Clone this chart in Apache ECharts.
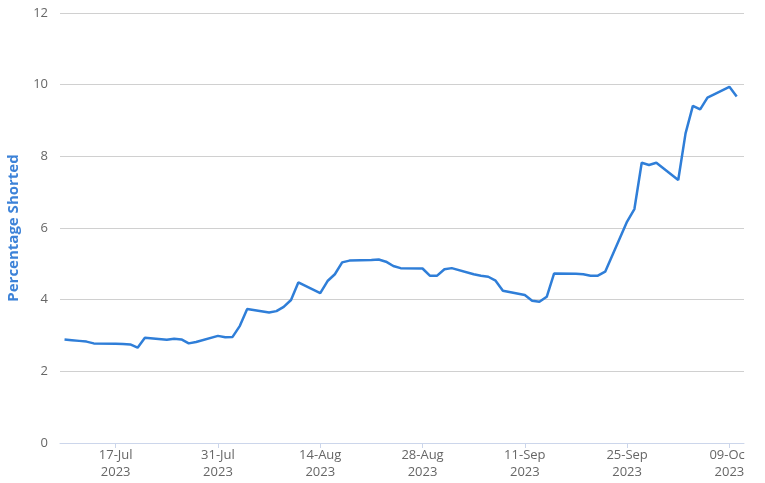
<!DOCTYPE html>
<html>
<head>
<meta charset="utf-8">
<script src="https://cdn.jsdelivr.net/npm/echarts@6/dist/echarts.min.js"></script>
<style>
html,body{margin:0;padding:0;background:#fff;overflow:hidden;}
#chart{width:745px;height:483px;}
</style>
</head>
<body>
<div id="chart"></div>
<script>
// Trading dates and percentage shorted values
const dates = [
  '2023-07-10','2023-07-11','2023-07-12','2023-07-13','2023-07-14',
  '2023-07-17','2023-07-18','2023-07-19','2023-07-20','2023-07-21',
  '2023-07-24','2023-07-25','2023-07-26','2023-07-27','2023-07-28',
  '2023-07-31','2023-08-01','2023-08-02','2023-08-03','2023-08-04',
  '2023-08-07','2023-08-08','2023-08-09','2023-08-10','2023-08-11',
  '2023-08-14','2023-08-15','2023-08-16','2023-08-17','2023-08-18',
  '2023-08-21','2023-08-22','2023-08-23','2023-08-24','2023-08-25',
  '2023-08-28','2023-08-29','2023-08-30','2023-08-31','2023-09-01',
  '2023-09-04','2023-09-05','2023-09-06','2023-09-07','2023-09-08',
  '2023-09-11','2023-09-12','2023-09-13','2023-09-14','2023-09-15',
  '2023-09-18','2023-09-19','2023-09-20','2023-09-21','2023-09-22',
  '2023-09-25','2023-09-26','2023-09-27','2023-09-28','2023-09-29',
  '2023-10-02','2023-10-03','2023-10-04','2023-10-05','2023-10-06',
  '2023-10-09','2023-10-10'
];
const shorted = [
  2.89, 2.87, 2.85, 2.83, 2.78,
  2.77, 2.76, 2.75, 2.66, 2.94,
  2.88, 2.91, 2.89, 2.78, 2.82,
  2.99, 2.95, 2.96, 3.27, 3.74,
  3.64, 3.68, 3.80, 3.99, 4.48,
  4.18, 4.52, 4.71, 5.04, 5.09,
  5.11, 5.12, 5.06, 4.94, 4.88,
  4.87, 4.67, 4.67, 4.85, 4.88,
  4.71, 4.67, 4.64, 4.53, 4.25,
  4.13, 3.97, 3.94, 4.08, 4.73,
  4.72, 4.71, 4.67, 4.67, 4.78,
  6.18, 6.53, 7.82, 7.76, 7.82,
  7.34, 8.64, 9.41, 9.31, 9.64,
  9.94, 9.67
];
const tickDates = ['2023-07-17','2023-07-31','2023-08-14','2023-08-28','2023-09-11','2023-09-25','2023-10-09'];
const yTicks = [0, 2, 4, 6, 8, 10, 12];
const axisStart = '2023-07-09';
const axisEnd = '2023-10-11';

const BASE = Date.UTC(2023, 6, 3);
const DAY = 86400000;
const MONTHS = ['Jan','Feb','Mar','Apr','May','Jun','Jul','Aug','Sep','Oct','Nov','Dec'];
function toDay(s) {
  const p = s.split('-').map(Number);
  return (Date.UTC(p[0], p[1] - 1, p[2]) - BASE) / DAY;
}
function fmt(d) {
  const dt = new Date(BASE + Math.round(d) * DAY);
  const dd = String(dt.getUTCDate()).padStart(2, '0');
  return dd + '-' + MONTHS[dt.getUTCMonth()] + '\n' + dt.getUTCFullYear();
}
const seriesData = dates.map((d, i) => [toDay(d), shorted[i]]);
const tickVals = tickDates.map(toDay);

const chart = echarts.init(document.getElementById('chart'), null, {renderer: 'canvas'});
chart.setOption({
  animation: false,
  backgroundColor: '#ffffff',
  textStyle: {fontFamily: '"Open Sans", sans-serif'},
  grid: {left: 60, right: 1, top: 13, bottom: 40, containLabel: false, outerBoundsMode: 'none'},
  xAxis: {
    type: 'value',
    min: toDay(axisStart) + 0.38,
    max: toDay(axisEnd),
    axisLine: {show: true, onZero: false, lineStyle: {color: '#ccd6eb', width: 1}},
    axisTick: {show: true, customValues: tickVals, length: 5, lineStyle: {color: '#ccd6eb'}},
    axisLabel: {
      customValues: tickVals,
      formatter: fmt,
      color: '#666666',
      fontSize: 13,
      lineHeight: 17,
      margin: 4,
      hideOverlap: false,
      fontFamily: '"Open Sans", sans-serif'
    },
    splitLine: {show: false}
  },
  yAxis: {
    type: 'value',
    min: yTicks[0],
    max: yTicks[yTicks.length - 1],
    interval: 2,
    name: 'Percentage Shorted',
    nameLocation: 'middle',
    nameGap: 39,
    nameTextStyle: {color: '#3c82d8', fontSize: 15, fontWeight: 'bold', fontFamily: '"Open Sans", sans-serif'},
    axisLine: {show: false},
    axisTick: {show: false},
    axisLabel: {color: '#666666', fontSize: 13, margin: 12, fontFamily: '"Open Sans", sans-serif'},
    splitLine: {show: true, lineStyle: {color: '#d0d0d0', width: 1}}
  },
  series: [{
    type: 'line',
    data: seriesData,
    showSymbol: false,
    symbol: 'none',
    lineStyle: {color: '#2f7ed8', width: 2.5},
    itemStyle: {color: '#2f7ed8'}
  }]
});
</script>
</body>
</html>
